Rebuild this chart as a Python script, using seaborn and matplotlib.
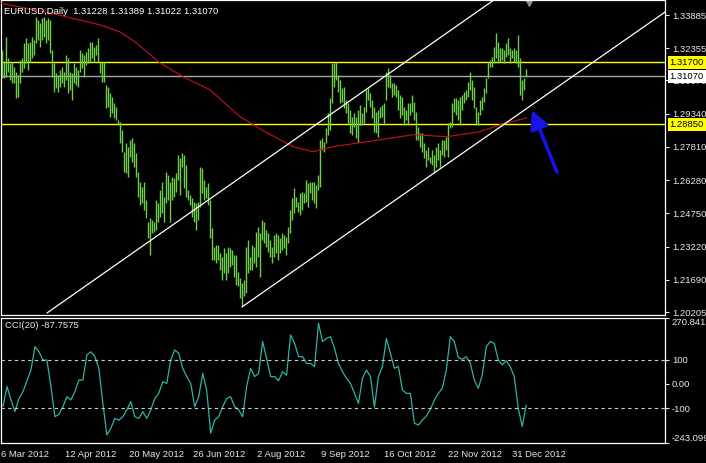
import numpy as np
import matplotlib
matplotlib.use('Agg')
import matplotlib.pyplot as plt
import matplotlib.transforms as mtransforms
import seaborn as sns

sns.set_style('dark', {'axes.facecolor': 'black', 'figure.facecolor': 'black'})
plt.rcParams['font.family'] = ['Liberation Sans', 'DejaVu Sans']

# EURUSD daily bars, 6 Mar 2012 - early Jan 2013
highs = [
    1.3228, 1.3173, 1.3288, 1.3191, 1.3168, 1.3173, 1.3150, 1.3127, 1.3113, 1.3182,
    1.3191, 1.3260, 1.3283, 1.3260, 1.3265, 1.3288, 1.3274, 1.3380, 1.3366, 1.3352,
    1.3375, 1.3380, 1.3366, 1.3375, 1.3366, 1.3228, 1.3168, 1.3122, 1.3113, 1.3136,
    1.3150, 1.3127, 1.3205, 1.3191, 1.3127, 1.3122, 1.3168, 1.3150, 1.3136, 1.3228,
    1.3214, 1.3205, 1.3219, 1.3237, 1.3265, 1.3265, 1.3242, 1.3251, 1.3283, 1.3173,
    1.3173, 1.3173, 1.3067, 1.3058, 1.3030, 1.3012, 1.2984, 1.2966, 1.2906, 1.2897,
    1.2860, 1.2759, 1.2800, 1.2782, 1.2814, 1.2823, 1.2800, 1.2754, 1.2667, 1.2621,
    1.2598, 1.2621, 1.2538, 1.2437, 1.2455, 1.2446, 1.2437, 1.2538, 1.2524, 1.2584,
    1.2621, 1.2552, 1.2667, 1.2653, 1.2621, 1.2644, 1.2639, 1.2662, 1.2745, 1.2731,
    1.2754, 1.2745, 1.2699, 1.2584, 1.2561, 1.2547, 1.2529, 1.2524, 1.2529, 1.2690,
    1.2685, 1.2630, 1.2598, 1.2616, 1.2538, 1.2409, 1.2322, 1.2331, 1.2331, 1.2294,
    1.2276, 1.2317, 1.2294, 1.2322, 1.2317, 1.2308, 1.2285, 1.2285, 1.2207, 1.2179,
    1.2156, 1.2170, 1.2322, 1.2354, 1.2276, 1.2331, 1.2322, 1.2391, 1.2414, 1.2386,
    1.2446, 1.2437, 1.2400, 1.2386, 1.2354, 1.2322, 1.2377, 1.2386, 1.2377, 1.2363,
    1.2386, 1.2377, 1.2368, 1.2414, 1.2492, 1.2547, 1.2593, 1.2552, 1.2529, 1.2570,
    1.2575, 1.2570, 1.2630, 1.2616, 1.2621, 1.2621, 1.2621, 1.2607, 1.2653, 1.2814,
    1.2823, 1.2805, 1.2869, 1.2938, 1.3007, 1.3168, 1.3168, 1.3173, 1.3113, 1.3090,
    1.3053, 1.3058, 1.2998, 1.2984, 1.2952, 1.2920, 1.2938, 1.2920, 1.2952, 1.2975,
    1.2938, 1.2966, 1.3044, 1.3053, 1.3030, 1.2998, 1.2966, 1.2943, 1.2952, 1.2966,
    1.2975, 1.2984, 1.3127, 1.3145, 1.3113, 1.3076, 1.3076, 1.3067, 1.3044, 1.3021,
    1.3012, 1.2966, 1.2952, 1.2984, 1.2984, 1.3021, 1.2989, 1.2943, 1.2874, 1.2846,
    1.2846, 1.2800, 1.2768, 1.2782, 1.2736, 1.2768, 1.2745, 1.2782, 1.2800, 1.2768,
    1.2814, 1.2814, 1.2828, 1.2892, 1.2897, 1.2984, 1.3007, 1.3007, 1.2998, 1.3012,
    1.3021, 1.3035, 1.3044, 1.3081, 1.3127, 1.3090, 1.3058, 1.2966, 1.2943, 1.2998,
    1.3012, 1.3053, 1.3099, 1.3173, 1.3182, 1.3196, 1.3242, 1.3306, 1.3265, 1.3237,
    1.3237, 1.3228, 1.3260, 1.3283, 1.3237, 1.3228, 1.3237, 1.3228, 1.3297, 1.3191,
    1.3090, 1.3099, 1.3139,
]
lows = [
    1.3099, 1.3099, 1.3104, 1.3127, 1.3090, 1.3076, 1.3076, 1.3007, 1.3012, 1.3076,
    1.3127, 1.3145, 1.3168, 1.3136, 1.3173, 1.3191, 1.3205, 1.3260, 1.3274, 1.3242,
    1.3274, 1.3288, 1.3260, 1.3274, 1.3214, 1.3104, 1.3035, 1.3053, 1.3035, 1.3058,
    1.3076, 1.3058, 1.3090, 1.3030, 1.3044, 1.2998, 1.3076, 1.3067, 1.3058, 1.3127,
    1.3145, 1.3104, 1.3159, 1.3168, 1.3173, 1.3191, 1.3173, 1.3205, 1.3173, 1.3122,
    1.3081, 1.3081, 1.2961, 1.2966, 1.2920, 1.2938, 1.2915, 1.2906, 1.2883, 1.2800,
    1.2759, 1.2667, 1.2662, 1.2644, 1.2736, 1.2713, 1.2690, 1.2644, 1.2552, 1.2515,
    1.2524, 1.2492, 1.2455, 1.2363, 1.2285, 1.2386, 1.2391, 1.2400, 1.2437, 1.2460,
    1.2478, 1.2437, 1.2524, 1.2538, 1.2437, 1.2538, 1.2552, 1.2575, 1.2630, 1.2561,
    1.2690, 1.2593, 1.2552, 1.2538, 1.2515, 1.2460, 1.2437, 1.2400, 1.2446, 1.2506,
    1.2570, 1.2538, 1.2547, 1.2515, 1.2363, 1.2262, 1.2262, 1.2248, 1.2262, 1.2216,
    1.2170, 1.2202, 1.2170, 1.2202, 1.2230, 1.2239, 1.2184, 1.2147, 1.2138, 1.2087,
    1.2046, 1.2092, 1.2110, 1.2202, 1.2216, 1.2216, 1.2248, 1.2230, 1.2276, 1.2184,
    1.2354, 1.2340, 1.2322, 1.2299, 1.2276, 1.2248, 1.2276, 1.2294, 1.2262, 1.2294,
    1.2308, 1.2317, 1.2285, 1.2340, 1.2386, 1.2446, 1.2478, 1.2506, 1.2483, 1.2469,
    1.2492, 1.2524, 1.2529, 1.2506, 1.2570, 1.2538, 1.2524, 1.2501, 1.2584, 1.2598,
    1.2768, 1.2759, 1.2800, 1.2837, 1.2860, 1.2984, 1.3058, 1.3090, 1.3035, 1.2984,
    1.2989, 1.2961, 1.2938, 1.2892, 1.2846, 1.2837, 1.2874, 1.2823, 1.2805, 1.2883,
    1.2883, 1.2892, 1.2943, 1.2998, 1.2966, 1.2915, 1.2851, 1.2846, 1.2828, 1.2915,
    1.2920, 1.2883, 1.2998, 1.3058, 1.3053, 1.3012, 1.3021, 1.3012, 1.2952, 1.2915,
    1.2929, 1.2883, 1.2906, 1.2883, 1.2929, 1.2943, 1.2906, 1.2814, 1.2814, 1.2782,
    1.2759, 1.2731, 1.2690, 1.2722, 1.2708, 1.2699, 1.2662, 1.2690, 1.2722, 1.2690,
    1.2745, 1.2736, 1.2768, 1.2736, 1.2869, 1.2874, 1.2943, 1.2929, 1.2906, 1.2883,
    1.2952, 1.2984, 1.2998, 1.3012, 1.3044, 1.2998, 1.2961, 1.2883, 1.2883, 1.2929,
    1.2952, 1.2989, 1.3030, 1.3099, 1.3150, 1.3150, 1.3168, 1.3191, 1.3168, 1.3173,
    1.3182, 1.3168, 1.3196, 1.3205, 1.3168, 1.3191, 1.3173, 1.3168, 1.3150, 1.3021,
    1.2998, 1.3044, 1.3102,
]

# slow moving average (red), sampled along the curve
ma_bars = [-1, 24, 49, 59, 66.5, 79, 90.5, 104, 119, 131.5, 145.5, 155.5,
           165.5, 182.5, 205.5, 222.5, 239, 249, 262.5]
ma_vals = [1.3444, 1.3398, 1.3343, 1.3311, 1.3265, 1.3168, 1.3104, 1.3044, 1.2920,
           1.2851, 1.2782, 1.2759, 1.2782, 1.2805, 1.2837, 1.2828, 1.2851, 1.2883, 1.2915]

# CCI(20), every second bar
cci = [
    -93, -11, -66, -114, -60, -32, 13, 57, 153, 132,
    98, 98, -11, -135, -125, -94, -53, -66, -32, 16,
    16, 119, 132, 112, 64, -80, -210, -183, -142, -149,
    -135, -107, -73, -135, -142, -114, -142, -107, -60, -39,
    9, 2, 98, 139, 126, 64, 30, 2, -94, -53,
    43, -25, -203, -149, -135, -94, -60, -53, -94, -107,
    -135, -11, 64, 30, 43, 174, 105, 30, 30, 13,
    50, 36, 201, 167, 112, 112, 84, 84, 71, 249,
    174, 187, 194, 146, 84, 50, 23, 2, -39, -80,
    23, 57, 30, -96, 30, 71, 187, 126, 64, 71,
    -25, -39, -39, -162, -169, -149, -132, -105, -66, -39,
    -18, 57, 194, 174, 109, 101, 112, 84, 16, -18,
    36, 153, 174, 167, 98, 78, 95, 71, 30, -100,
    -175, -87.7575,
]

# trend channel (start/end bar, start/end price)
upper_chan = ([22.5, 246], [1.2016, 1.3458])
lower_chan = ([120, 331.5], [1.2044, 1.3402])

levels = [1.3170, 1.2885]
bid = 1.3107

price_ticks = [1.33885, 1.32355, 1.30870, 1.29340, 1.27810,
               1.26280, 1.24750, 1.23220, 1.21690, 1.20205]
date_pos = [-1, 31, 63, 95, 127, 159, 191, 223, 255]
date_labels = ['6 Mar 2012', '12 Apr 2012', '20 May 2012', '26 Jun 2012', '2 Aug 2012',
               '9 Sep 2012', '16 Oct 2012', '22 Nov 2012', '31 Dec 2012']

assert len(highs) == len(lows)
bars = np.arange(len(highs))
cci_bars = np.arange(0, len(highs), 2)
assert len(cci_bars) == len(cci)

green = '#6ccf48'
fs = 6.8
txt = '#e8e8e8'

fig = plt.figure(figsize=(7.06, 4.63), dpi=100, facecolor='black')
ax = fig.add_axes([1 / 706, 148 / 463, 664 / 706, 315 / 463])
ax2 = fig.add_axes([1 / 706, 20 / 463, 664 / 706, 125 / 463])

# ---- price window
ax.vlines(bars, lows, highs, color=green, lw=1.0, zorder=3)
for lv in levels:
    ax.axhline(lv, color='#ffff00', lw=1.0, zorder=2)
ax.axhline(bid, color='#a8a8a8', lw=1.0, zorder=2)
sns.lineplot(x=ma_bars, y=ma_vals, ax=ax, color='#c8101e', lw=0.8, zorder=4)
ax.plot(upper_chan[0], upper_chan[1], color='white', lw=0.9, zorder=4)
ax.plot(lower_chan[0], lower_chan[1], color='white', lw=0.9, zorder=4)

ax.annotate('', xy=(265, 1.2951), xytext=(277.5, 1.2665),
            arrowprops=dict(arrowstyle='-|>,head_width=0.55,head_length=1.1',
                            lw=2.6, color='#1414e6', shrinkA=0, shrinkB=0), zorder=6)
ax.plot([len(highs) + 0.5], [0.992], marker='v', ms=4.5, color='#8c8c8c',
        transform=mtransforms.blended_transform_factory(ax.transData, ax.transAxes),
        clip_on=False)

ax.set_xlim(-0.5, 331.5)
ax.set_ylim(1.20067, 1.34576)
ax.set_xticks([])
ax.yaxis.tick_right()
ax.set_yticks(price_ticks)
ax.set_yticklabels([f'{v:.5f}' for v in price_ticks])
ax.tick_params(axis='y', colors=txt, labelsize=fs, length=3, width=0.8, pad=2)

btrans = mtransforms.blended_transform_factory(ax.transAxes, ax.transData)
for val, face in [(levels[0], '#ffff00'), (bid, '#ffffff'), (levels[1], '#ffff00')]:
    ax.text(1.007, val, f'{val:.5f}', transform=btrans, ha='left', va='center',
            color='black', fontsize=fs, zorder=10,
            bbox=dict(boxstyle='square,pad=0.2', fc=face, ec='none'))

fig.text(4 / 706, 1 - 12 / 463, 'EURUSD,Daily  1.31228 1.31389 1.31022 1.31070',
         color='white', fontsize=fs, ha='left', va='center')

# ---- CCI window
sns.lineplot(x=cci_bars, y=cci, ax=ax2, color='#2fb3a6', lw=0.9)
for lv in (100, -100):
    ax2.axhline(lv, color='#cfcfcf', lw=0.8, dashes=(3, 3))
ax2.set_xlim(-0.5, 331.5)
ax2.set_ylim(-243.099, 270.8412)
ax2.yaxis.tick_right()
cci_ticks = [-243.099, -100, 0, 100, 270.8412]
ax2.set_yticks(cci_ticks)
ax2.set_yticklabels(['-243.099', '-100', '0.00', '100', '270.8412'])
ax2.tick_params(axis='y', colors=txt, labelsize=fs, length=3, width=0.8, pad=2)
ylbls = ax2.get_yticklabels()
ylbls[0].set_va('bottom')
ylbls[-1].set_va('top')
ax2.set_xticks(date_pos)
ax2.set_xticklabels(date_labels)
ax2.tick_params(axis='x', colors=txt, labelsize=fs, length=3, width=0.8, pad=2)
for lbl in ax2.get_xticklabels():
    lbl.set_ha('left')
ax2.text(4 / 664, 1 - 8 / 125, 'CCI(20) -87.7575', transform=ax2.transAxes,
         color=txt, fontsize=fs, ha='left', va='center')

for a in (ax, ax2):
    a.grid(False)
    a.set_xlabel('')
    a.set_ylabel('')
    for s in a.spines.values():
        s.set_visible(True)
        s.set_color('white')
        s.set_linewidth(0.9)

fig.savefig('out.png', dpi=100, facecolor='black')
